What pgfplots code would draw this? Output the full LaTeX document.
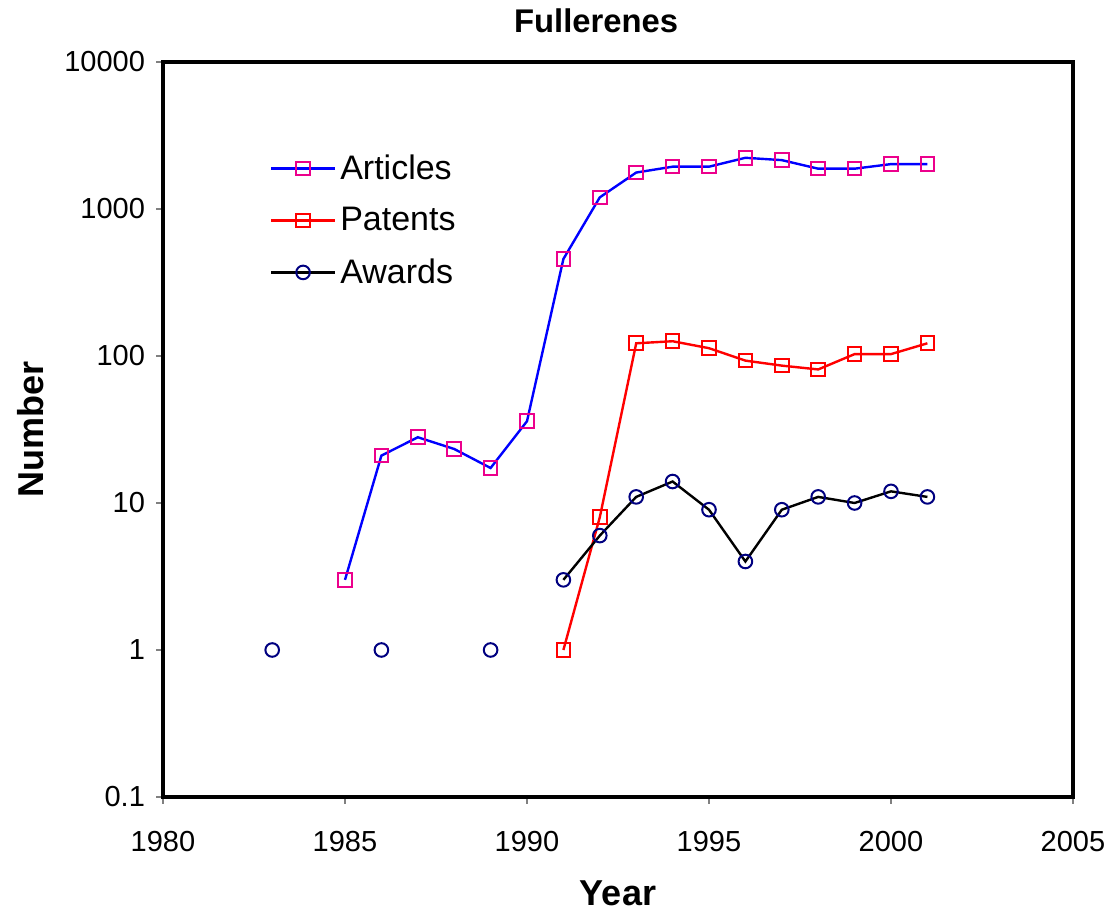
\documentclass[border=0pt]{standalone}
\usepackage{fontspec}
\setmainfont{Liberation Sans}
\usepackage{pgfplots}
\pgfplotsset{compat=1.18}
\definecolor{navyc}{RGB}{0,0,128}
\begin{document}
\begin{tikzpicture}
\useasboundingbox (-81.5pt,-58pt) rectangle (472.5pt,398.5pt);
\begin{axis}[
  at={(0pt,0pt)}, anchor=south west,
  scale only axis, width=455pt, height=367.5pt,
  xmin=1980, xmax=2005, ymode=log, ymin=0.1, ymax=10000,
  xtick={1980,1985,1990,1995,2000,2005},
  xticklabels={1980,1985,1990,1995,2000,2005},
  ytick={0.1,1,10,100,1000,10000},
  yticklabels={0.1,1,10,100,1000,10000},
  minor ytick={}, yminorticks=false,
  axis line style={line width=2pt},
  tick style={gray, line width=0.8pt},
  major tick length=3.5pt,
  tick align=outside,
  xtick pos=bottom, ytick pos=left,
  /pgf/number format/assume math mode=true,
  ticklabel style={font=\fontsize{14.5}{16}\selectfont},
  xticklabel style={yshift=-10pt},
  yticklabel style={xshift=-2pt},
  xlabel={\textbf{Year}}, ylabel={\textbf{Number}},
  label style={font=\fontsize{18}{20}\selectfont},
  xlabel style={at={(axis description cs:0.5,-0.1306)}, anchor=center, xshift=0pt, yshift=0pt},
  ylabel style={at={(axis description cs:-0.146,0.5)}, anchor=center, xshift=0pt, yshift=0pt, rotate=0},
  title={\textbf{Fullerenes}},
  title style={at={(axis description cs:0.476,1.054)}, anchor=center, xshift=0pt, yshift=-5pt, font=\fontsize{16.4}{18}\selectfont},
  legend style={at={(axis description cs:0.117,0.88)}, anchor=north west, draw=none, fill=none,
    font=\fontsize{17}{20}\selectfont, row sep=8.5pt, inner sep=0pt},
  legend cell align=left,
  legend image code/.code={\draw[mark repeat=2,mark phase=2] plot coordinates {(0pt,0pt) (16pt,0pt) (32pt,0pt)};},
]
\addplot[blue, line width=1.2pt, mark=square, mark size=3.4pt, mark options={draw=magenta, line width=1pt, fill=none, solid}]
coordinates {(1985,3) (1986,21) (1987,28) (1988,23.3) (1989,17.3) (1990,36) (1991,457) (1992,1200) (1993,1770) (1994,1940) (1995,1940) (1996,2230) (1997,2150) (1998,1880) (1999,1880) (2000,2020) (2001,2020)};
\addlegendentry{Articles}
\addplot[red, line width=1.2pt, mark=square, mark size=3.4pt, mark options={draw=red, line width=1pt, fill=none, solid}]
coordinates {(1991,1) (1992,8) (1993,122) (1994,126) (1995,113) (1996,93) (1997,86) (1998,81) (1999,103) (2000,103) (2001,122)};
\addlegendentry{Patents}
\addplot[black, line width=1.2pt, mark=o, mark size=3.4pt, mark options={draw=navyc, line width=1pt, fill=none, solid}]
coordinates {(1991,3) (1992,6) (1993,11) (1994,14) (1995,9) (1996,4) (1997,9) (1998,11) (1999,10) (2000,12) (2001,11)};
\addlegendentry{Awards}
\addplot[only marks, mark=o, mark size=3.4pt, mark options={draw=navyc, line width=1pt, fill=none, solid}, forget plot]
coordinates {(1983,1) (1986,1) (1989,1)};
\end{axis}
\end{tikzpicture}
\end{document}
